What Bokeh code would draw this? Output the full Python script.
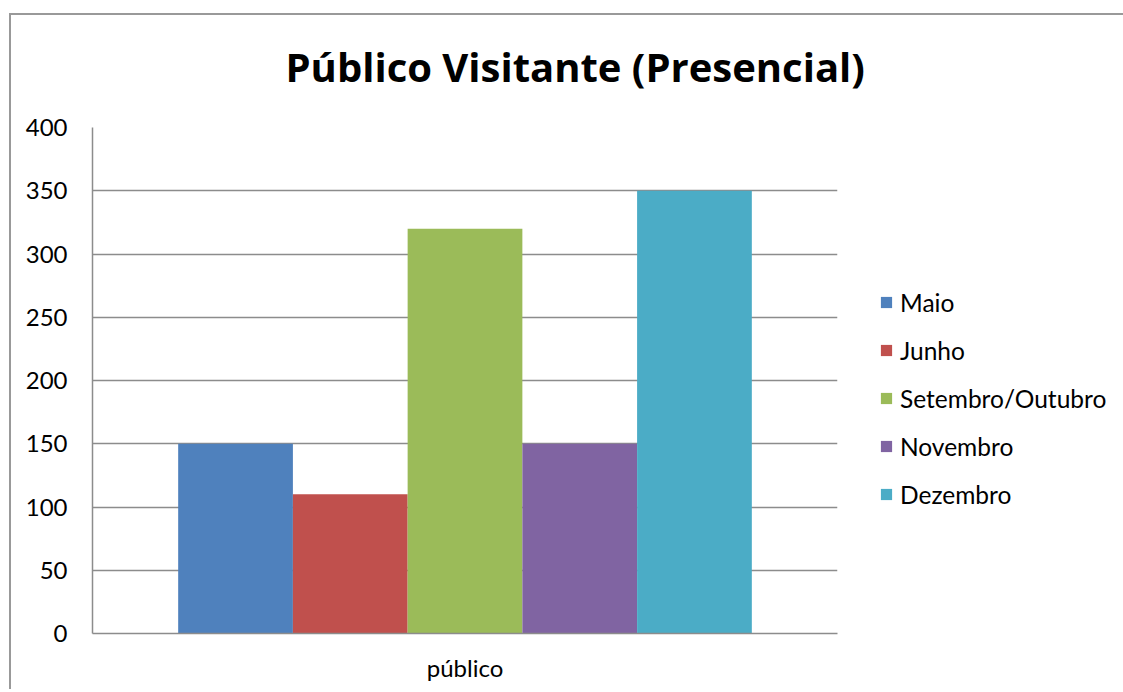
from bokeh.plotting import figure
from bokeh.models import (ColumnDataSource, Range1d, FactorRange, FixedTicker, Legend,
                          LegendItem, Title)
from bokeh.transform import dodge
from bokeh.embed import file_html
from bokeh.resources import INLINE

# ---- data ----
category = ["público"]
months = ["Maio", "Junho", "Setembro/Outubro", "Novembro", "Dezembro"]
values = [150, 110, 320, 150, 350]
colors = ["#4F81BD", "#C0504D", "#9BBB59", "#8064A2", "#4BACC6"]
y_ticks = [0, 50, 100, 150, 200, 250, 300, 350, 400]
title_text = "Público Visitante (Presencial)"

FONT = "Lato"
TFONT = "Open Sans"
GRID = "#8c8c8c"

p = figure(frame_width=745, frame_height=506,
           x_range=FactorRange(*category, range_padding=0),
           y_range=Range1d(0, 400), output_backend="svg", toolbar_location=None,
           min_border_left=92, min_border_top=127, min_border_right=280,
           min_border_bottom=56)
p.margin = (0, 0, 0, 0)
p.styles = {"background": "linear-gradient(#999999,#999999) 9px 13px / 100% 2px no-repeat, "
                          "linear-gradient(#999999,#999999) 9px 13px / 2px 100% no-repeat, white"}
p.outline_line_color = None
p.background_fill_color = "white"
p.border_fill_color = None

bar_w = 0.154
n = len(months)
items = []
for i, (m, v, c) in enumerate(zip(months, values, colors)):
    off = (i - (n - 1) / 2) * bar_w
    src = ColumnDataSource(dict(cat=category, v=[v]))
    r = p.vbar(x=dodge("cat", off, range=p.x_range), top="v", width=bar_w, source=src,
               fill_color=c, line_color=None)
    items.append(LegendItem(label=m, renderers=[r]))

# axes
p.yaxis.ticker = FixedTicker(ticks=y_ticks)
p.yaxis.major_tick_line_color = None
p.yaxis.minor_tick_line_color = None
p.yaxis.major_tick_out = 0
p.yaxis.major_label_standoff = 25
p.yaxis.axis_line_color = GRID
p.yaxis.axis_line_width = 1.5
p.yaxis.major_label_text_font = FONT
p.yaxis.major_label_text_font_size = "24px"
p.yaxis.major_label_text_color = "black"

p.xaxis.major_tick_line_color = None
p.xaxis.minor_tick_line_color = None
p.xaxis.major_tick_out = 0
p.xaxis.major_label_standoff = 19
p.xaxis.axis_line_color = GRID
p.xaxis.axis_line_width = 1.5
p.xaxis.major_label_text_font = FONT
p.xaxis.major_label_text_font_size = "24px"
p.xaxis.major_label_text_color = "black"

p.xgrid.grid_line_color = None
p.ygrid.grid_line_color = GRID
p.ygrid.grid_line_width = 1.5
p.ygrid.ticker = FixedTicker(ticks=y_ticks)

# legend
lg = Legend(items=items, location=(42, 124), orientation="vertical")
lg.padding = 0
lg.margin = 0
lg.border_line_color = None
lg.background_fill_alpha = 0
lg.glyph_width = 14
lg.glyph_height = 14
lg.label_height = 30
lg.spacing = 18
lg.label_standoff = 7
lg.label_text_font = FONT
lg.label_text_font_size = "24.5px"
lg.label_text_color = "black"
p.add_layout(lg, "right")

# title
t = Title(text=title_text, align="left", offset=193, standoff=68, text_font=TFONT,
          text_font_style="bold", text_font_size="40px", text_color="black")
p.add_layout(t, "above")

open("out.html", "w").write(file_html(p, INLINE))
